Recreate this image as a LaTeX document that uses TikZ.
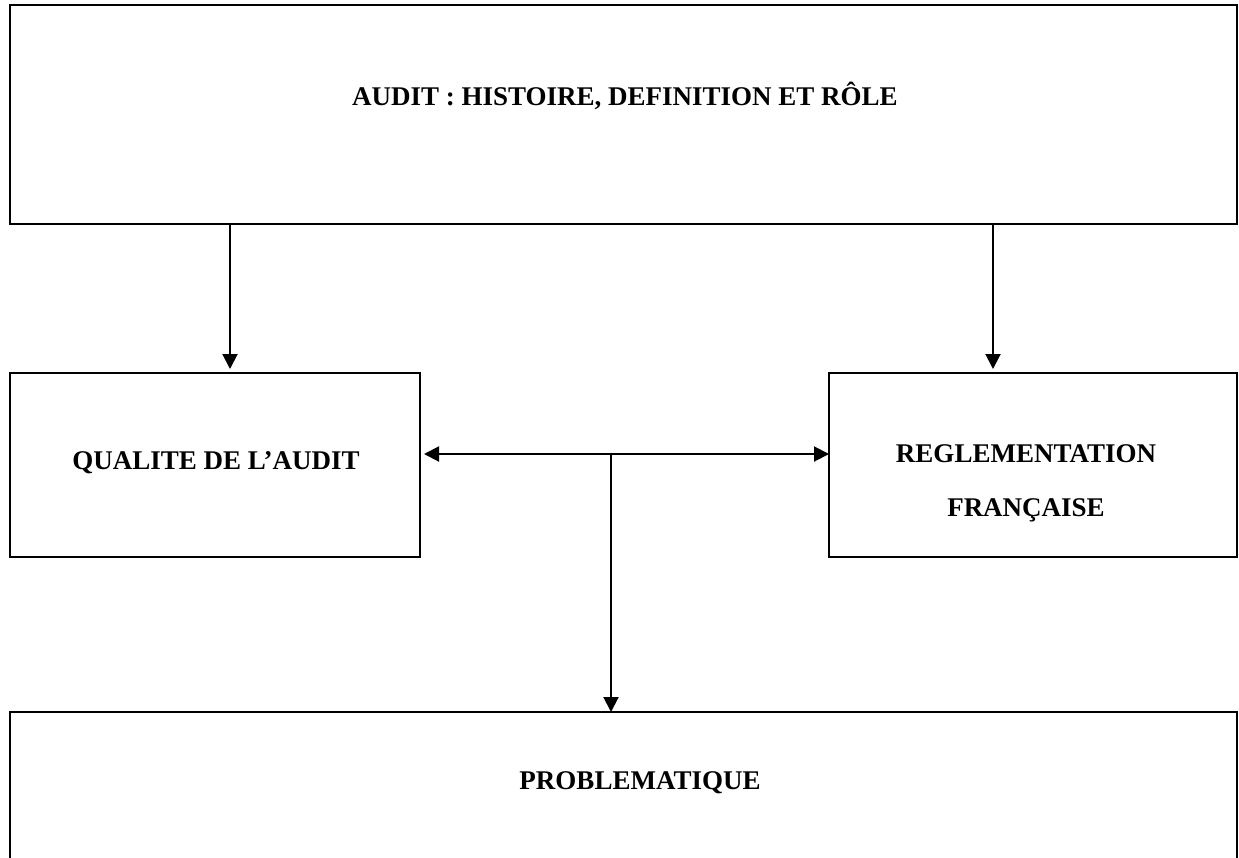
\documentclass[tikz,border=0pt]{standalone}
\usepackage{fontspec}
\setmainfont{Liberation Serif}
\usetikzlibrary{arrows.meta}

\tikzset{every picture/.style={line width=2pt}}
\tikzset{
  box/.style={draw, rectangle, inner sep=0pt, outer sep=0pt},
  boxtext/.style={font=\bfseries\fontsize{27}{54}\selectfont, inner sep=0pt, align=center},
  conn/.style={-{Triangle[length=15pt,width=15pt]}},
}

\begin{document}
\begin{tikzpicture}[x=1pt,y=1pt,yscale=-1,xscale=1]
	\clip (0,0) rectangle (1239,857);

	%Shape: Rectangle
	\node [box, minimum width=1227pt, minimum height=219pt] (audit) at (623.5,114.5) {};
	%Shape: Rectangle
	\node [box, minimum width=410pt, minimum height=184pt] (qual) at (215,465) {};
	%Shape: Rectangle
	\node [box, minimum width=408pt, minimum height=184pt] (reg) at (1033,465) {};
	%Shape: Rectangle (runs off the page)
	\node [box, minimum width=1227pt, minimum height=170pt] (prob) at (623.5,797) {};

	% Text Node
	\node [boxtext, anchor=base] (auditlbl) at (625,105) {AUDIT : HISTOIRE, DEFINITION ET RÔLE};
	% Text Node
	\node [boxtext, anchor=base] (quallbl) at (216,469) {QUALITE DE L’AUDIT};
	% Text Node
	\node [boxtext] (reglbl) at (1026,483) {REGLEMENTATION\\FRANÇAISE};
	% Text Node
	\node [boxtext, anchor=base] (problbl) at (640,789) {PROBLEMATIQUE};

	\coordinate (qin) at ([xshift=15pt]qual.north);
	\coordinate (rin) at ([xshift=-40pt]reg.north);
	\coordinate (hub) at (611,454);

	%Straight Lines
	\draw [conn] (qin |- audit.south) -- ([yshift=-4pt]qin);
	%Straight Lines
	\draw [conn] (rin |- audit.south) -- ([yshift=-4pt]rin);
	%Straight Lines
	\draw [conn] (hub) -- ([xshift=4pt]hub -| qual.east);
	\draw [conn] (hub) -- (hub -| reg.west);
	\draw [conn] (hub) -- (hub |- prob.north);
\end{tikzpicture}
\end{document}
